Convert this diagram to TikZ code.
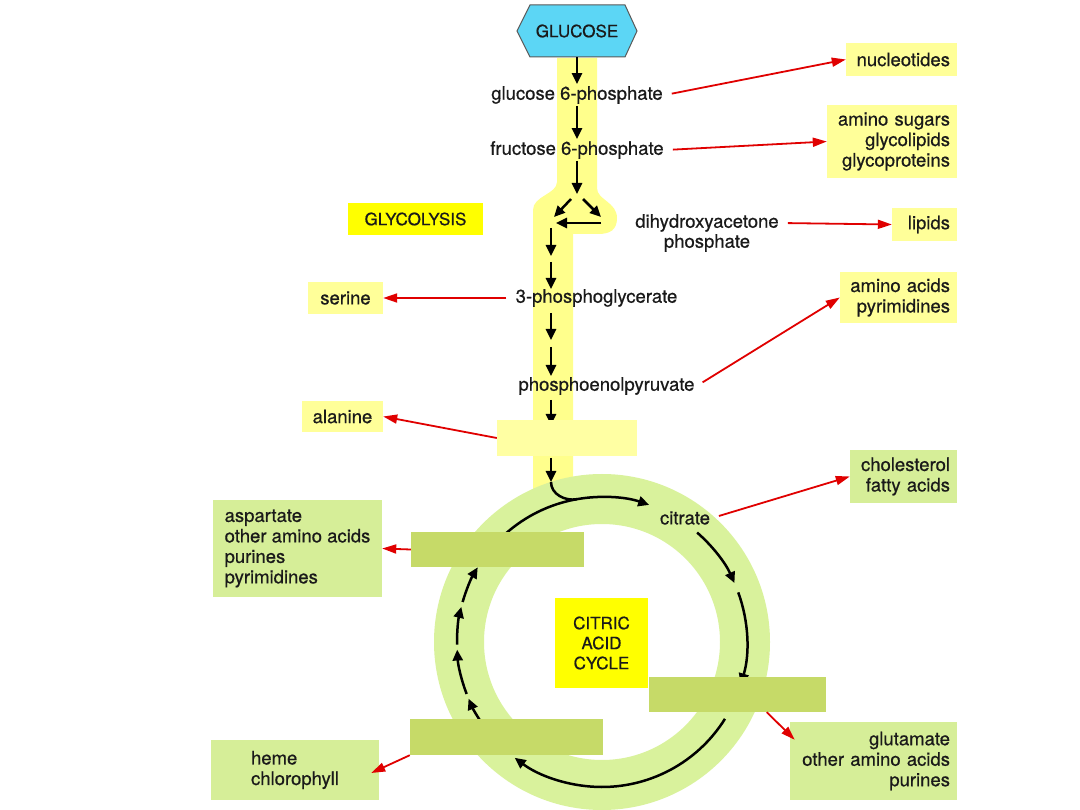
\documentclass[tikz,border=0pt]{standalone}
\usepackage{fontspec}
\setmainfont{TeX Gyre Heros}[RawFeature={embolden=0.6}]
\usetikzlibrary{arrows.meta,calc}
\definecolor{band}{HTML}{FFFF8C}
\definecolor{palebox}{HTML}{FFFFA3}
\definecolor{lyellow}{HTML}{FFFF99}
\definecolor{byellow}{HTML}{FFFF00}
\definecolor{ringgreen}{HTML}{D9F29C}
\definecolor{lgreen}{HTML}{D6EE98}
\definecolor{dgreen}{HTML}{C6DA68}
\definecolor{cyanfill}{HTML}{5CD6F5}
\definecolor{redarr}{HTML}{E00000}
\definecolor{ink}{HTML}{1A1A1A}
\begin{document}
\begin{tikzpicture}[x=1pt,y=1pt,
  font=\fontsize{18.5}{20.5}\selectfont, text=ink,
  capsfont/.style={font=\fontsize{17}{20}\selectfont},
  lbl/.style={inner sep=2pt},
  ybox/.style={fill=lyellow, inner sep=0pt, inner xsep=7pt},
  gbox/.style={fill=lgreen, inner sep=0pt, inner xsep=7pt},
  blank/.style={inner sep=0pt},
  blk/.style={draw=black, line width=2.5pt, -{Triangle[length=11pt,width=10pt]}},
  blkline/.style={draw=black, line width=2.5pt},
  redarrow/.style={draw=redarr, line width=1.8pt, shorten <=7pt, -{Triangle[length=14pt,width=9pt]}}
]
\useasboundingbox (0,0) rectangle (1080,-810);
\clip (0,0) rectangle (1080,-810);
\fill[white] (0,0) rectangle (1080,-810);

% glycolysis band
\fill[band] (557,-58) -- (597,-58) -- (597,-188)
  .. controls (597,-200) and (617,-202) .. (617,-218)
  .. controls (617,-230) and (610,-234) .. (598,-234)
  -- (573,-234) -- (573,-495) -- (533,-495) -- (533,-210)
  .. controls (533,-196) and (557,-194) .. (557,-182) -- cycle;

% citric acid ring
\coordinate (C) at (602,-642);
\draw[ringgreen, line width=50pt] (C) circle[radius=143];

% glucose hexagon
\filldraw[fill=cyanfill, draw=gray!70!black, line width=1pt]
  (517,-31) -- (530,-5) -- (625,-5) -- (637,-31) -- (625,-57) -- (530,-57) -- cycle;
\node[capsfont, inner sep=0pt, minimum height=52pt, minimum width=100pt] (glucose) at (577,-31) {GLUCOSE};

% intermediates
\node[lbl] (g6p) at (577,-95) {glucose 6-phosphate};
\node[lbl] (f6p) at (577,-150) {fructose 6-phosphate};
\node[lbl] (dhap1) at (707,-223) {dihydroxyacetone};
\node[lbl] (dhap2) at (707,-243) {phosphate};
\node[lbl] (pg3) at (596.5,-298) {3-phosphoglycerate};
\node[lbl] (pep) at (606.5,-386) {phosphoenolpyruvate};
\node[lbl] (citrate) at (685,-518) {citrate};

% glycolysis chain coordinates
\coordinate (split) at (577,-194);
\coordinate (sl0) at (571,-199); \coordinate (tl) at (554,-217);
\coordinate (sr0) at (583,-199); \coordinate (tr) at (601,-217);
\coordinate (h0) at (601,-223); \coordinate (h1) at (556,-223);
\coordinate (a0) at (551,-228); \coordinate (a1) at (551,-256);
\coordinate (a2) at (551,-262); \coordinate (a3) at (551,-289);
\coordinate (b0) at (551,-313); \coordinate (b1) at (551,-340);
\coordinate (b2) at (551,-347); \coordinate (b3) at (551,-376);
\coordinate (c0) at (551,-400); \coordinate (c1) at (551,-425);
\coordinate (d0) at (551,-458); \coordinate (d1) at (551,-482);

\draw[blk] (glucose.south) -- (g6p.north);
\draw[blk] (g6p.south) -- (f6p.north);
\draw[blk] (f6p.south) -- (split);
\draw[blk] (sl0) -- (tl);
\draw[blk] (sr0) -- (tr);
\draw[blk] (h0) -- (h1);
\draw[blk] (a0) -- (a1);
\draw[blk] (a2) -- (a3);
\draw[blk] (b0) -- (b1);
\draw[blk] (b2) -- (b3);
\draw[blk] (c0) -- (c1);
\draw[blk] (d0) -- (d1);

% cycle arrows
\draw[blk] (d1) to[out=-90,in=190] ($(C)+(100:145)$) arc[start angle=100,end angle=71,radius=145];
\draw[blkline] ($(C)+(140:145)$) arc[start angle=140,end angle=100,radius=145];
\draw[blk] ($(C)+(49:145)$) arc[start angle=49,end angle=24,radius=145];
\draw[blk] ($(C)+(20:145)$) arc[start angle=20,end angle=-17,radius=145];
\draw[blk] ($(C)+(-32:145)$) arc[start angle=-32,end angle=-127,radius=145];
\draw[blk] ($(C)+(215:145)$) arc[start angle=215,end angle=203,radius=145];
\draw[blk] ($(C)+(201:145)$) arc[start angle=201,end angle=183,radius=145];
\draw[blk] ($(C)+(181:145)$) arc[start angle=181,end angle=166,radius=145];
\draw[blk] ($(C)+(164:145)$) arc[start angle=164,end angle=149,radius=145];

% blank boxes
\node[blank, fill=palebox, minimum width=140pt, minimum height=36pt] (pyr) at (567,-438) {};
\node[blank, fill=dgreen, minimum width=173pt, minimum height=35pt] (B1) at (497.5,-549.5) {};
\node[blank, fill=dgreen, minimum width=177pt, minimum height=35pt] (B2) at (737.5,-694.5) {};
\node[blank, fill=dgreen, minimum width=193pt, minimum height=36pt] (B3) at (506.5,-737) {};

% title boxes
\node[capsfont, fill=byellow, inner sep=0pt, minimum width=135pt, minimum height=32pt] (glyc) at (415.5,-219) {GLYCOLYSIS};
\node[capsfont, fill=byellow, inner sep=0pt, minimum width=93pt, minimum height=90pt, align=center] (citric) at (601.5,-643) {CITRIC\\ACID\\CYCLE};

% product boxes
\node[ybox, minimum height=33pt, text width=97pt, align=right] (nuc) at (901.5,-59.5) {nucleotides};
\node[ybox, minimum height=73pt, text width=116pt, align=right] (amsug) at (892,-141.5) {amino sugars\\glycolipids\\glycoproteins};
\node[ybox, minimum height=33pt, text width=51pt, align=right] (lipids) at (924.5,-224.5) {lipids};
\node[ybox, minimum height=51pt, text width=103pt, align=right] (aapyr) at (898.5,-297.5) {amino acids\\pyrimidines};
\node[gbox, minimum height=53pt, text width=93pt, align=right] (chol) at (903.5,-476.5) {cholesterol\\fatty acids};
\node[gbox, minimum height=78pt, text width=153pt, align=right] (glut) at (873.5,-761) {glutamate\\other amino acids\\purines};
\node[gbox, minimum width=169pt, minimum height=97pt, align=left] (asp) at (297.5,-548.5) {aspartate\\other amino acids\\purines\\pyrimidines};
\node[gbox, minimum width=168pt, minimum height=60pt, align=left] (heme) at (295,-770) {heme\\chlorophyll};
\node[ybox, inner xsep=0pt, minimum width=75pt, minimum height=32pt] (serine) at (345.5,-298) {serine};
\node[ybox, inner xsep=0pt, minimum width=81pt, minimum height=31pt] (alanine) at (342.5,-416.5) {alanine};

% red arrows
\draw[redarrow] (g6p.east) -- (nuc.west);
\draw[redarrow] (f6p.east) -- (amsug.west);
\draw[redarrow] (dhap1.east) -- (lipids.west);
\draw[redarrow] (pg3.west) -- (serine.east);
\draw[redarrow] (pep.east) -- (aapyr.west);
\draw[redarrow, shorten <=0pt] (pyr.west) -- (alanine.east);
\draw[redarrow] (citrate.east) -- (chol.west);
\draw[redarrow, shorten <=0pt] (B1.west) -- (asp.east);
\draw[redarrow, shorten <=0pt] ($(B2.south)!0.33!(B2.south east)$) -- ($(glut.north west)+(5,-18)$);
\draw[redarrow, shorten <=0pt] (B3.south west) -- ($(heme.east)+(-8,-3)$);
\end{tikzpicture}
\end{document}
